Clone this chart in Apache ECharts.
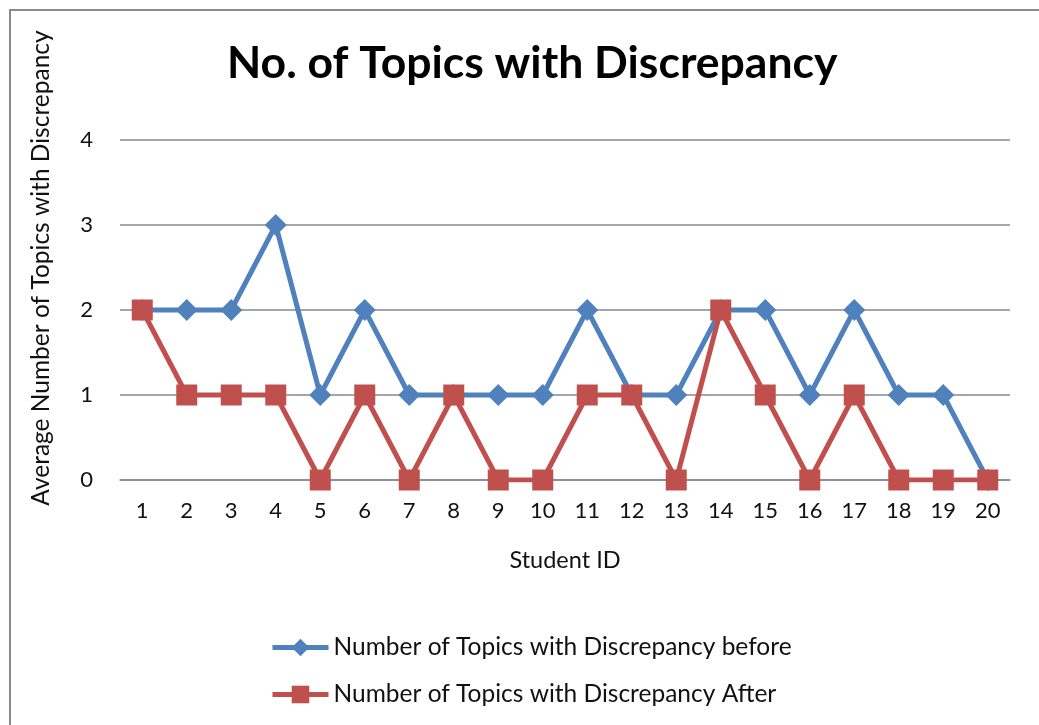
<!DOCTYPE html>
<html><head><meta charset="utf-8">
<script src="https://cdn.jsdelivr.net/npm/echarts@6/dist/echarts.min.js"></script>
<style>html,body{margin:0;padding:0;background:#fff}#c{width:1039px;height:725px}</style>
</head><body><div id="c"></div>
<script>
const categories = ['1','2','3','4','5','6','7','8','9','10','11','12','13','14','15','16','17','18','19','20'];
const before = [2,2,2,3,1,2,1,1,1,1,2,1,1,2,2,1,2,1,1,0];
const after = [2,1,1,1,0,1,0,1,0,0,1,1,0,2,1,0,1,0,0,0];
const yTicks = [0,1,2,3,4];
const FONT = 'Lato, "Open Sans", sans-serif';
const chart = echarts.init(document.getElementById('c'), null, {renderer:'canvas'});
chart.setOption({
  animation:false,
  backgroundColor:'#fff',
  title:{text:'No. of Topics with Discrepancy', left:222, top:36,
    textStyle:{fontFamily:FONT, fontSize:44.5, fontWeight:'bold', color:'#000'}},
  grid:{left:120, right:29, top:140, height:340},
  legend:{orient:'vertical', left:265, top:630, itemGap:22, itemWidth:56, itemHeight:22,
    lineStyle:{width:5},
    textStyle:{fontFamily:FONT, fontSize:24.5, color:'#111'},
    data:['Number of Topics with Discrepancy before','Number of Topics with Discrepancy After']},
  xAxis:{type:'category', data:categories, boundaryGap:true,
    name:'Student ID', nameLocation:'middle', nameGap:68,
    nameTextStyle:{fontFamily:FONT, fontSize:23.5, color:'#111'},
    axisLine:{lineStyle:{color:'#888', width:1.5}}, axisTick:{show:false},
    axisLabel:{fontFamily:FONT, fontSize:22, color:'#111', margin:20}},
  yAxis:{type:'value', min:0, max:4, interval:1,
    axisLine:{show:false}, axisTick:{show:false},
    splitLine:{lineStyle:{color:'#888', width:1.5}},
    axisLabel:{fontFamily:FONT, fontSize:22, color:'#111', margin:27,
      formatter:v=>yTicks.includes(v)?String(v):''}},
  graphic:[
    {type:'rect', shape:{x:10,y:10,width:1100,height:800}, style:{fill:'none', stroke:'#8a8a8a', lineWidth:2}, silent:true},
    {type:'text', x:41, y:268, rotation:Math.PI/2, style:{text:'Average Number of Topics with Discrepancy', fontFamily:FONT, fontSize:24.5, fill:'#111', align:'center', verticalAlign:'middle'}}
  ],
  series:[
    {name:'Number of Topics with Discrepancy before', type:'line', data:before,
      symbol:'diamond', symbolSize:22, itemStyle:{color:'#4F81BD'}, lineStyle:{width:5, color:'#4F81BD'}},
    {name:'Number of Topics with Discrepancy After', type:'line', data:after,
      symbol:'rect', symbolSize:21, itemStyle:{color:'#C0504D'}, lineStyle:{width:5, color:'#C0504D'}}
  ]
});
</script></body></html>
